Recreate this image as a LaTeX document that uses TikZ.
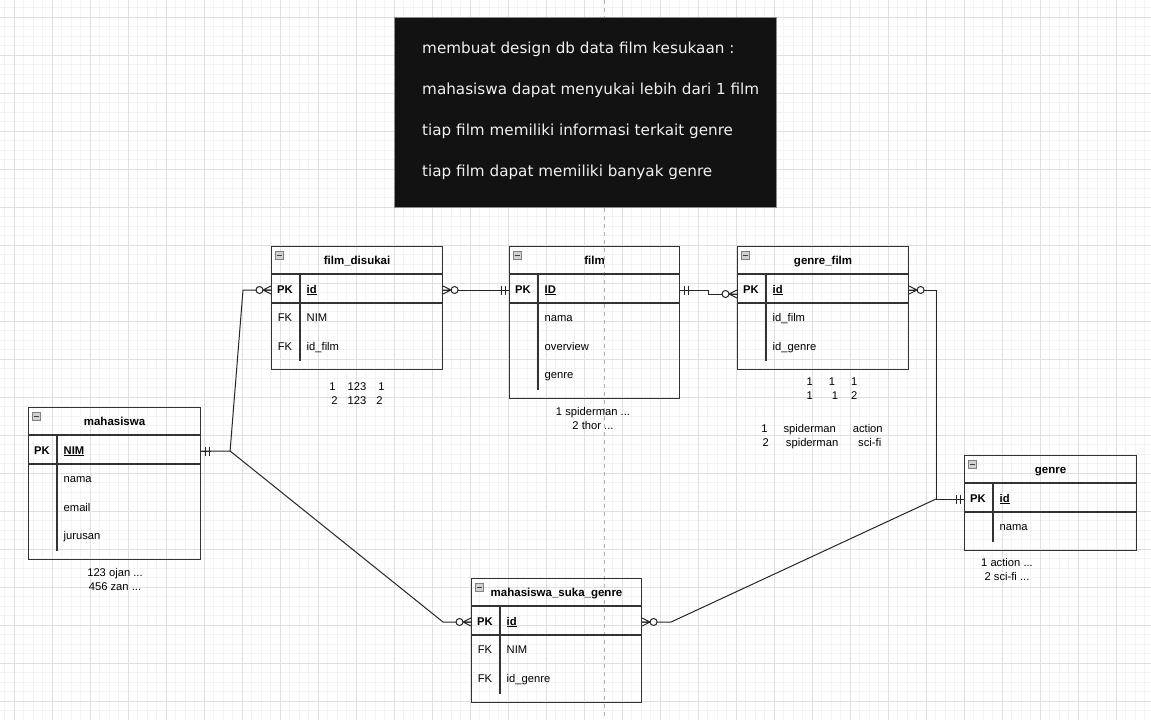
\documentclass[tikz,border=0pt]{standalone}
\usepackage{fontspec}
\setmainfont{Liberation Sans}
\newfontfamily\notefont{DejaVu Sans}

\definecolor{gridmajor}{HTML}{E0E0E0}
\definecolor{gridminor}{HTML}{F3F3F3}
\definecolor{notebg}{HTML}{121212}
\definecolor{lineclr}{HTML}{333333}

\tikzset{
  tbl/.style={draw=lineclr, line width=1.1pt, rectangle, inner sep=0pt, anchor=north west},
  tblsep/.style={draw=lineclr, line width=1.1pt},
  tbltitle/.style={font=\fontsize{11.5}{13}\selectfont\bfseries, inner sep=0pt, text height=8.5pt, text depth=2.5pt},
  field/.style={font=\fontsize{11.2}{13}\selectfont, anchor=west, inner sep=0pt, text height=8.5pt, text depth=2.5pt},
  keycol/.style={font=\fontsize{11.2}{13}\selectfont, inner sep=0pt, text height=8.5pt, text depth=2.5pt},
  annot/.style={font=\fontsize{11.2}{14}\selectfont, align=center, inner sep=0pt},
  icon/.style={draw=gray, fill=black!18, line width=0.8pt},
  iconbar/.style={draw=black!75, line width=1pt},
  rel/.style={draw=black!85, line width=1pt},
  notebox/.style={draw=black!45, fill=notebg, line width=1pt, rectangle, anchor=north west},
  notetext/.style={text=white!94!black, font=\notefont\fontsize{15.2}{18}\selectfont, anchor=base west, inner sep=0pt},
  zeromany/.pic={\draw[rel] (0,-4) -- (8,0) -- (0,4) (0,0) -- (8,0);
                 \draw[rel, fill=white] (11.5,0) circle (3.5pt);},
  mandone/.pic={\draw[rel] (0,0) -- (10,0) (4,-4.5) -- (4,4.5) (8,-4.5) -- (8,4.5);},
}

% table frame: name, x, y, width, height, title
\newcommand{\ertable}[6]{%
  \node[tbl, minimum width=#4pt, minimum height=#5pt] (#1) at (#2,#3) {};
  \draw[tblsep] ([yshift=-28pt]#1.north west) -- ([yshift=-28pt]#1.north east);
  \draw[tblsep] ([yshift=-57pt]#1.north west) -- ([yshift=-57pt]#1.north east);
  \draw[tblsep] ([xshift=29pt,yshift=-28pt]#1.north west) -- ([xshift=29pt,yshift=9pt]#1.south west);
  \draw[icon] ([xshift=4pt,yshift=-5pt]#1.north west) rectangle ++(8,8);
  \draw[iconbar] ([xshift=5.5pt,yshift=-9pt]#1.north west) -- ++(5,0);
  \node[tbltitle] (#1-title) at ([yshift=-15pt]#1.north) {#6};
}

% table rows: name, primary key, list of key/field
\newcommand{\errows}[3]{%
  \node[keycol, font=\fontsize{11.2}{13}\selectfont\bfseries] (#1-pk) at ([xshift=14pt,yshift=-44pt]#1.north west) {PK};
  \node[field, font=\fontsize{11.2}{13}\selectfont\bfseries] (#1-pkname) at ([xshift=35.5pt,yshift=-44pt]#1.north west) {\underline{#2}};
  \foreach \k/\f [count=\i, evaluate=\i as \dy using -44-28.5*\i] in {#3} {
    \node[keycol] (#1-k\i) at ([xshift=14pt,yshift=\dy pt]#1.north west) {\k};
    \node[field] (#1-f\i) at ([xshift=35.5pt,yshift=\dy pt]#1.north west) {\f};
  }
}

\begin{document}
\begin{tikzpicture}[x=1pt, y=-1pt]
\useasboundingbox (0,0) rectangle (1151,720);
\fill[white] (0,0) rectangle (1151,720);

% grid
\foreach \i in {-1,...,119}
  \draw[gridminor, line width=0.8pt] (14+9.5*\i,0) -- (14+9.5*\i,720);
\foreach \j in {-1,...,74}
  \draw[gridminor, line width=0.8pt] (0,17+9.5*\j) -- (1151,17+9.5*\j);
\foreach \i in {0,...,29}
  \draw[gridmajor, line width=1pt] (14+38*\i,0) -- (14+38*\i,720);
\foreach \j in {0,...,18}
  \draw[gridmajor, line width=1pt] (0,17+38*\j) -- (1151,17+38*\j);

% page break
\draw[black!30, dash pattern=on 4pt off 4pt, line width=0.8pt] (604,0) -- (604,720);

% note
\node[notebox, minimum width=382pt, minimum height=190pt] (note) at (394,17) {};
\foreach \t [count=\i] in {membuat design db data film kesukaan :,
    mahasiswa dapat menyukai lebih dari 1 film,
    tiap film memiliki informasi terkait genre,
    tiap film dapat memiliki banyak genre}
  \node[notetext] (note-\i) at (422,12+41*\i) {\t};

% tables
\ertable{mhs}{28}{407}{172}{152}{mahasiswa}
\errows{mhs}{NIM}{/nama, /email, /jurusan}
\ertable{fd}{271}{246}{171}{123}{film\_disukai}
\errows{fd}{id}{FK/NIM, FK/id\_film}
\ertable{film}{509}{246}{170}{152}{film}
\errows{film}{ID}{/nama, /overview, /genre}
\ertable{gf}{737}{246}{171}{123}{genre\_film}
\errows{gf}{id}{/id\_film, /id\_genre}
\ertable{msg}{471}{578}{170}{124}{mahasiswa\_suka\_genre}
\errows{msg}{id}{FK/NIM, FK/id\_genre}
\ertable{genre}{964}{455}{172}{95}{genre}
\errows{genre}{id}{/nama}

% sample data
\node[annot] (mhs-data) at (115,579) {123 ojan ...\\456 zan ...};
\node[annot] (fd-data) at (357,393.5) {1\hspace{12pt}123\hspace{12pt}1\\2\hspace{10pt}123\hspace{10pt}2};
\node[annot] (film-data) at (593,418) {1 spiderman ...\\2 thor ...};
\node[annot] (gf-data) at (832,389) {1\hspace{16pt}1\hspace{16pt}1\\1\hspace{19pt}1\hspace{13pt}2};
\node[annot] (gf-rows) at (822,436.5) {1\hspace{16pt}spiderman\hspace{17pt}action\\2\hspace{17pt}spiderman\hspace{20pt}sci-fi};
\node[annot] (genre-data) at (1007,569.5) {1 action ...\\2 sci-fi ...};

% relations
\draw[rel] (mhs.east |- mhs-pk) -- ++(29,0) coordinate (mhs-j)
  -- ([xshift=-28pt]fd.west |- fd-pk) -- (fd.west |- fd-pk);
\draw[rel] (mhs-j) -- ([xshift=-28pt]msg.west |- msg-pk) -- (msg.west |- msg-pk);
\draw[rel] (fd.east |- fd-pk) -- (film.west |- film-pk);
\draw[rel] (film.east |- film-pk) -- ++(28,0) -- ++(0,4) -- ([yshift=-4pt]gf.west |- gf-pk);
\coordinate (genre-j) at ([xshift=-28pt]genre.west |- genre-pk);
\draw[rel] (gf.east |- gf-pk) -- (genre-j |- gf-pk) -- (genre-j) -- (genre.west |- genre-pk);
\draw[rel] (msg.east |- msg-pk) -- ++(29,0) -- (genre-j);

% relation ends
\path (mhs.east |- mhs-pk) pic {mandone};
\path (fd.west |- fd-pk) pic[rotate=180] {zeromany};
\path (msg.west |- msg-pk) pic[rotate=180] {zeromany};
\path (fd.east |- fd-pk) pic {zeromany};
\path (film.west |- film-pk) pic[rotate=180] {mandone};
\path (film.east |- film-pk) pic {mandone};
\path ([yshift=-4pt]gf.west |- gf-pk) pic[rotate=180] {zeromany};
\path (gf.east |- gf-pk) pic {zeromany};
\path (msg.east |- msg-pk) pic {zeromany};
\path (genre.west |- genre-pk) pic[rotate=180] {mandone};

\end{tikzpicture}
\end{document}
